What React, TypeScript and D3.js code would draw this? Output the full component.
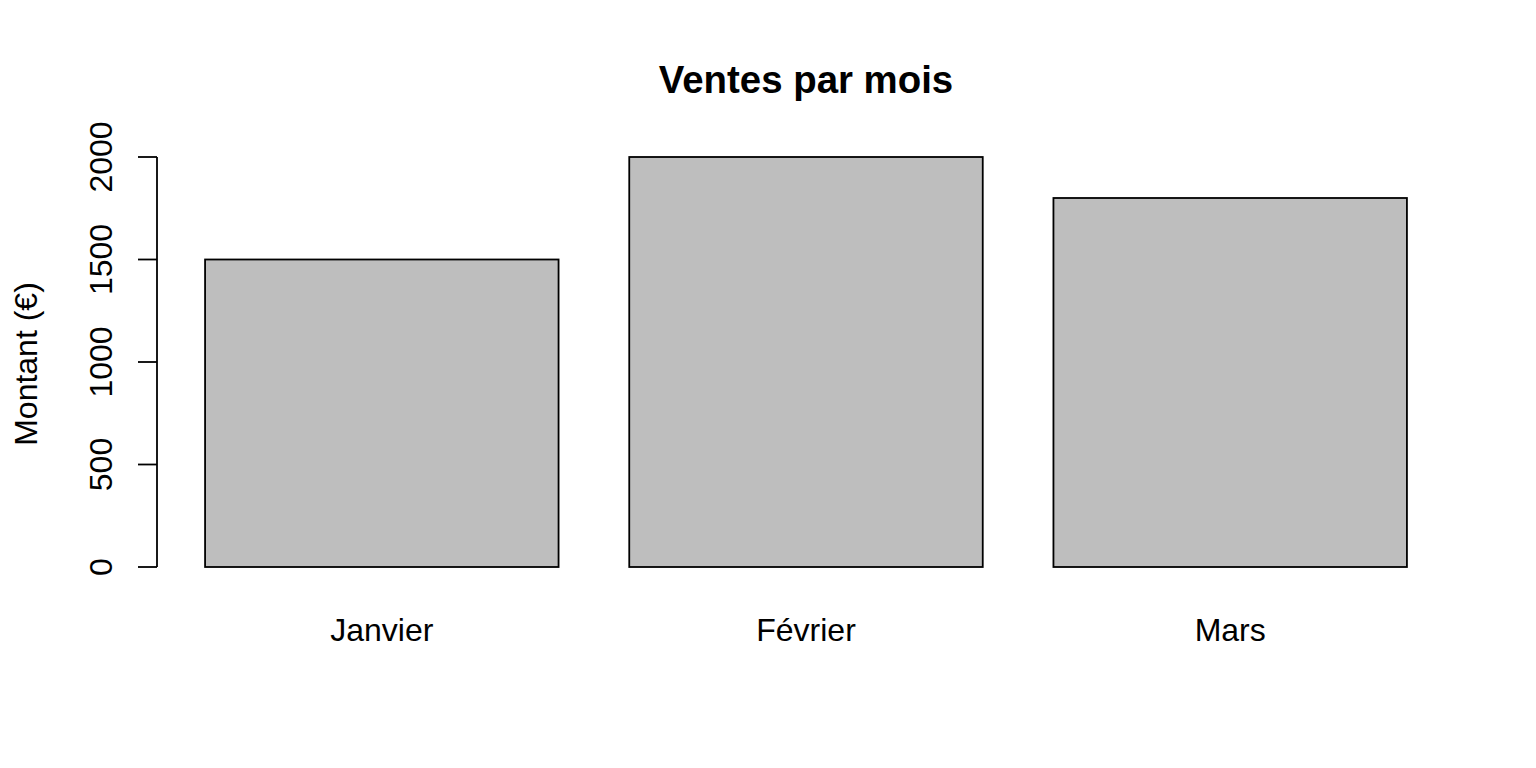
import React from "react";
import * as d3 from "d3";

const months = ["Janvier", "Février", "Mars"];
const sales = [1500, 2000, 1800];
const yTicks = [0, 500, 1000, 1500, 2000];
const title = "Ventes par mois";
const yLabel = "Montant (€)";

export default function App() {
  const W = 1536, H = 768;
  const plotL = 157, plotR = 1455, plotT = 140.6, plotB = 583.4;
  const barW = 1, space = 0.2;
  const lefts = months.map((_, i) => space + i * (barW + space));
  const xMin = lefts[0], xMax = lefts[lefts.length - 1] + barW;
  const pad = (xMax - xMin) * 0.04;
  const x = d3.scaleLinear().domain([xMin - pad, xMax + pad]).range([plotL, plotR]);
  const yMax = d3.max(sales) as number;
  const y = d3.scaleLinear().domain([-yMax * 0.04, yMax * 1.04]).range([plotB, plotT]);
  const font = "'Liberation Sans', Arial, Helvetica, sans-serif";
  const lw = 1.8;
  return (
    <svg width={W} height={H} style={{ position: "absolute", left: 0, top: 0, background: "#fff" }} fontFamily={font}>
      <rect x={0} y={0} width={W} height={H} fill="#fff" />
      <text x={(plotL + plotR) / 2} y={92.5} textAnchor="middle" fontSize={38.4} fontWeight="bold">{title}</text>
      {months.map((m, i) => (
        <rect key={m} x={x(lefts[i])} y={y(sales[i])} width={x(lefts[i] + barW) - x(lefts[i])} height={y(0) - y(sales[i])}
          fill="#BEBEBE" stroke="#000" strokeWidth={lw} />
      ))}
      {months.map((m, i) => (
        <text key={m} x={x(lefts[i] + barW / 2)} y={641} textAnchor="middle" fontSize={32}>{m}</text>
      ))}
      <line x1={plotL} x2={plotL} y1={y(yTicks[0])} y2={y(yTicks[yTicks.length - 1])} stroke="#000" strokeWidth={lw} />
      {yTicks.map(t => (
        <g key={t}>
          <line x1={plotL - 19} x2={plotL} y1={y(t)} y2={y(t)} stroke="#000" strokeWidth={lw} />
          <text transform={`translate(112,${y(t)}) rotate(-90)`} textAnchor="middle" fontSize={32}>{t}</text>
        </g>
      ))}
      <text transform={`translate(37,${(plotT + plotB) / 2 + 2}) rotate(-90)`} textAnchor="middle" fontSize={32}>{yLabel}</text>
    </svg>
  );
}
